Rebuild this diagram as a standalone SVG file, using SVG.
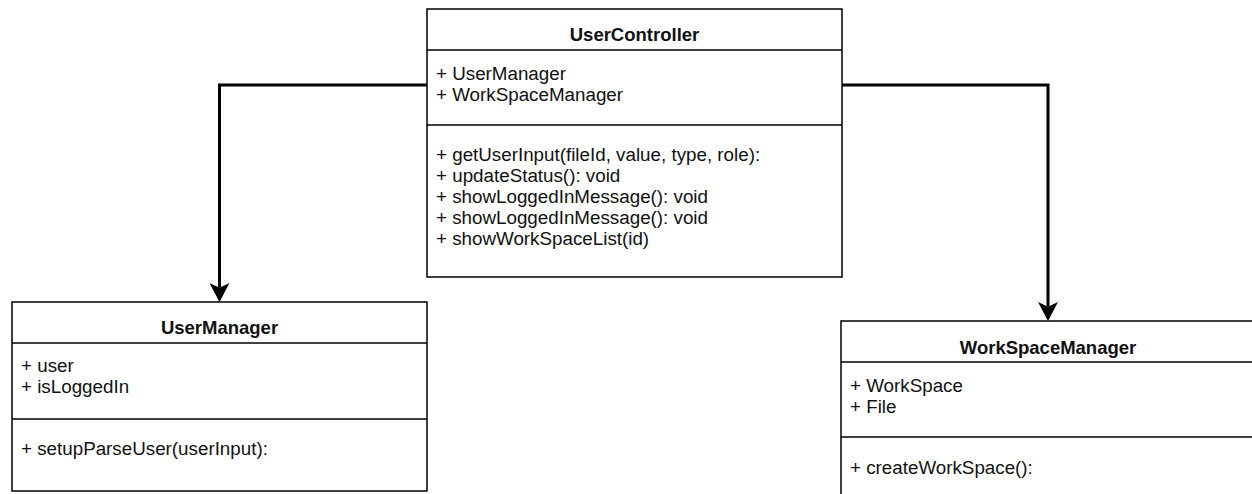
<svg xmlns="http://www.w3.org/2000/svg" width="1252" height="494" viewBox="0 0 1252 494">
<style>
.box{fill:#fff;stroke:#000;stroke-width:1.5}
.sep{stroke:#000;stroke-width:1.5}
.title{font-family:"Liberation Sans",Arial,sans-serif;font-size:18.5px;font-weight:bold;fill:#111;text-anchor:middle}
.txt{font-family:"Liberation Sans",Arial,sans-serif;font-size:18.8px;fill:#111}
.edge{fill:none;stroke:#000;stroke-width:3}
</style>
<defs>
<marker id="arrow" markerUnits="userSpaceOnUse" viewBox="0 -10 20 20" markerWidth="20" markerHeight="20" refX="4.75" refY="0" orient="auto">
<path d="M0,-10 L19,0 L0,10 L4.75,0 Z" fill="#000"/>
</marker>
</defs>
<rect width="1252" height="494" fill="#fff"/>
<g id="connectors">
<path class="edge" d="M427,85 H219.5 V287.75" marker-end="url(#arrow)"/>
<path class="edge" d="M842,85 H1048 V306.75" marker-end="url(#arrow)"/>
</g>
<g id="UserController">
<rect class="box" x="427" y="9" width="415" height="268"/>
<line class="sep" x1="427" y1="50" x2="842" y2="50"/>
<line class="sep" x1="427" y1="125" x2="842" y2="125"/>
<text class="title" x="634.5" y="40.5">UserController</text>
<text class="txt" x="436" y="80">+ UserManager</text>
<text class="txt" x="436" y="101">+ WorkSpaceManager</text>
<text class="txt" x="436" y="160.5">+ getUserInput(fileId, value, type, role):</text>
<text class="txt" x="436" y="181.5">+ updateStatus(): void</text>
<text class="txt" x="436" y="202.5">+ showLoggedInMessage(): void</text>
<text class="txt" x="436" y="223.5">+ showLoggedInMessage(): void</text>
<text class="txt" x="436" y="244.5">+ showWorkSpaceList(id)</text>
</g>
<g id="UserManager">
<rect class="box" x="12" y="302" width="415" height="189"/>
<line class="sep" x1="12" y1="343" x2="427" y2="343"/>
<line class="sep" x1="12" y1="419" x2="427" y2="419"/>
<text class="title" x="219.5" y="333.5">UserManager</text>
<text class="txt" x="21" y="372">+ user</text>
<text class="txt" x="21" y="393">+ isLoggedIn</text>
<text class="txt" x="21" y="455">+ setupParseUser(userInput):</text>
</g>
<g id="WorkSpaceManager">
<rect class="box" x="841" y="321" width="415" height="189"/>
<line class="sep" x1="841" y1="362" x2="1256" y2="362"/>
<line class="sep" x1="841" y1="437" x2="1256" y2="437"/>
<text class="title" x="1048" y="353.5">WorkSpaceManager</text>
<text class="txt" x="850" y="391.5">+ WorkSpace</text>
<text class="txt" x="850" y="412.5">+ File</text>
<text class="txt" x="850" y="473.5">+ createWorkSpace():</text>
</g>
</svg>
